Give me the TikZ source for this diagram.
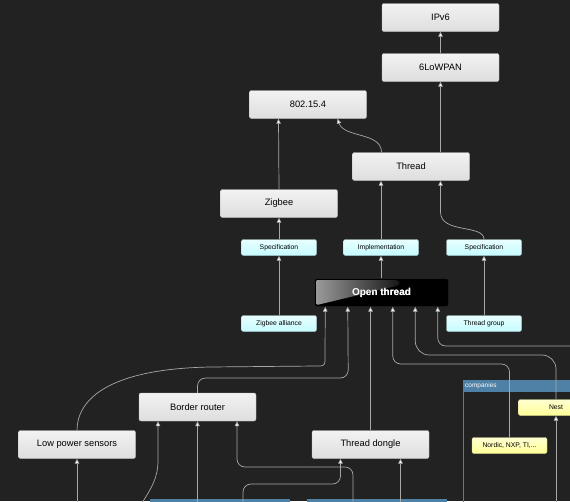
\documentclass[tikz,border=0pt]{standalone}
\usepackage{fontspec}
\setmainfont{Liberation Sans}
\usetikzlibrary{arrows.meta,calc}
\definecolor{cBg}{HTML}{222222}
\definecolor{cLine}{HTML}{A8A8A8}
\definecolor{cBox}{HTML}{DEDEDE}
\definecolor{cBoxHi}{HTML}{F2F2F2}
\definecolor{cBoxLine}{HTML}{BEBEBE}
\definecolor{cRole}{HTML}{C4FBFF}
\definecolor{cRoleHi}{HTML}{E8FFFF}
\definecolor{cComp}{HTML}{FFFF96}
\definecolor{cCompHi}{HTML}{FFFFD2}
\definecolor{cGroup}{HTML}{4F80A5}
\tikzset{
  gbox/.style={draw=cBoxLine, rounded corners=2pt, top color=cBoxHi, bottom color=cBox,
    text=black, font=\fontsize{9.3}{11}\selectfont, minimum width=117pt,
    minimum height=28pt, inner sep=0pt},
  rolebox/.style={draw=cRole!60!gray, rounded corners=2pt, top color=cRoleHi, bottom color=cRole,
    text=black, font=\fontsize{6.8}{8}\selectfont, minimum width=75pt,
    minimum height=16pt, inner sep=0pt},
  compbox/.style={rolebox, draw=cComp!60!gray, top color=cCompHi, bottom color=cComp},
  hub/.style={draw=black!80, rounded corners=2pt, fill=black, text=white,
    font=\fontsize{10}{12}\selectfont\bfseries, minimum width=134pt,
    minimum height=28pt, inner sep=0pt},
  flow/.style={draw=cLine, line width=0.7pt, -{Triangle[length=5pt, width=4.5pt, fill=white]}},
}

\begin{document}
\begin{tikzpicture}[x=1pt, y=-1pt]
    \useasboundingbox (0,0) rectangle (570,501);
    \clip (0,0) rectangle (570,501);
    \fill[cBg] (0,0) rectangle (570,501);
    % groups (only partly in view)
    \draw[cGroup, line width=0.8pt] (463.5,380) rectangle (610,520);
    \fill[cGroup] (463,380) rectangle (610,392);
    \node[anchor=west, text=white, font=\fontsize{6.5}{8}\selectfont, inner sep=1pt] (complabel) at (464,386) {companies};
    \fill[cGroup] (150,499) rectangle (290,510);
    \fill[cGroup] (307,499) rectangle (447,510);
    % stack
    \node[gbox] (ipv6) at (440.5,17.5) {IPv6};
    \node[gbox] (lowpan) at (440.5,67.5) {6LoWPAN};
    \node[gbox] (ieee) at (308,104.5) {802.15.4};
    \node[gbox] (thread) at (411,166.5) {Thread};
    \node[gbox] (zigbee) at (279,203.5) {Zigbee};
    \node[rolebox] (specz) at (279,247.5) {Specification};
    \node[rolebox] (impl) at (381,247.5) {Implementation};
    \node[rolebox] (spect) at (484,247.5) {Specification};
    \node[hub] (open) at (381.5,292.5) {Open thread};
    \fill[left color=black!40, right color=black!92] (316.5,280) -- (395,280)
      .. controls (401,280) and (401,285) .. (396,286) -- (319,304.5)
      .. controls (316.5,305) .. (316.5,302) -- cycle;
    \node[text=white, font=\fontsize{10}{12}\selectfont\bfseries] (opentext) at (open) {Open thread};
    \node[rolebox] (zalliance) at (279,323.5) {Zigbee alliance};
    \node[rolebox] (tgroup) at (484,323.5) {Thread group};
    % devices
    \node[gbox] (border) at (197.5,407) {Border router};
    \node[gbox] (lps) at (77,444.5) {Low power sensors};
    \node[gbox] (dongle) at (370.5,444.5) {Thread dongle};
    \node[compbox] (nest) at (556,407.5) {Nest};
    \node[compbox] (nordic) at (509.5,445.5) {Nordic, NXP, TI,...};
    % loose ends leaving the view
    \coordinate (offright) at (590,346);
    \coordinate (inA) at (243,512);
    \coordinate (inB) at (400.5,512);
    \coordinate (inC) at (136,512);
    \coordinate (inD) at (197.5,512);
    \coordinate (inE) at (353,512);
    \coordinate (inF) at (77,512);
    \coordinate (inG) at (556,512);
    % upper links
    \draw[flow] (lowpan) -- (ipv6);
    \draw[flow] ([xshift=29.5pt]thread.north) -- (lowpan.south);
    \draw[flow] ([xshift=-29.5pt]thread.north) .. controls (381.5,132) and (344,138) .. ([xshift=29.5pt]ieee.south);
    \draw[flow] (zigbee.north) -- ([xshift=-29.5pt]ieee.south);
    \draw[flow] (specz) -- (zigbee);
    \draw[flow] (impl.north) -- ([xshift=-30pt]thread.south);
    \draw[flow] (spect.north) .. controls (484,224) and (440.5,234) .. (440.5,212) -- ([xshift=29.5pt]thread.south);
    \draw[flow] (open.north -| impl) -- (impl.south);
    \draw[flow] (zalliance) -- (specz);
    \draw[flow] (tgroup) -- (spect);
    % into Open thread
    \draw[flow] (lps.north) .. controls (77,402) and (104,369) .. (210,367) -- (316,366)
      .. controls (325,366) .. (325,357) -- ([xshift=-56.25pt]open.south);
    \draw[flow, rounded corners=8pt] (border.north) |- (348.25,378) -- ([xshift=-33.75pt]open.south);
    \draw[flow] (dongle.north) -- (dongle.north |- open.south);
    \draw[flow, rounded corners=8pt] (nordic.north) |- (392.75,364) -- ([xshift=11.25pt]open.south);
    \draw[flow, rounded corners=14pt] (nest.north) |- (415.25,355) -- ([xshift=33.75pt]open.south);
    \draw[flow, rounded corners=8pt] (offright) -| ([xshift=56.25pt]open.south);
    % from below
    \draw[flow, rounded corners=8pt] (inA) |- (340.5,484) -- ([xshift=-30pt]dongle.south);
    \draw[flow] (inB) -- ([xshift=30pt]dongle.south);
    \draw[flow] (inC) .. controls (152,488) and (158,478) .. (158,460) -- ([xshift=-39.5pt]border.south);
    \draw[flow] (inD) -- (border.south);
    \draw[flow, rounded corners=8pt] (inE) |- (237,467) -- ([xshift=39.5pt]border.south);
    \draw[flow] (inF) -- (lps.south);
    \draw[flow] (inG) -- (nest.south);
\end{tikzpicture}
\end{document}
